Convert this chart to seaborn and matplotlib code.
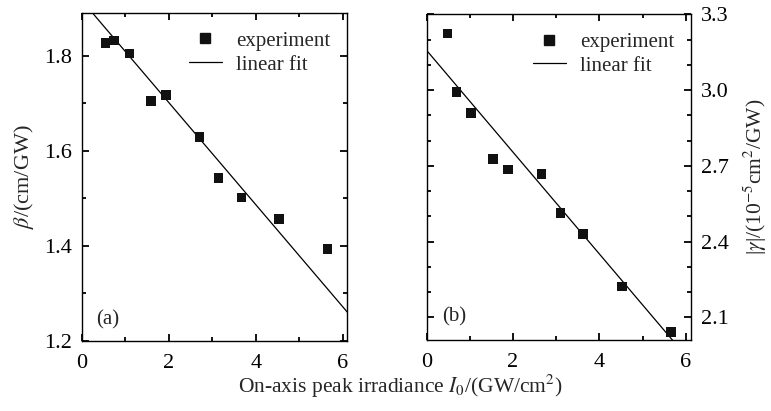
import matplotlib
matplotlib.use("Agg")
import matplotlib.pyplot as plt
import numpy as np
import pandas as pd
import seaborn as sns
from matplotlib.lines import Line2D
from matplotlib.ticker import MultipleLocator

# panel (a): beta vs irradiance
irr_a = [0.54, 0.74, 1.09, 1.59, 1.93, 2.70, 3.14, 3.67, 4.53, 5.65]
beta = [1.827, 1.832, 1.805, 1.705, 1.718, 1.629, 1.543, 1.502, 1.457, 1.394]
fit_x_a = [0.0, 6.3]
fit_y_a = [1.916, 1.240]

# panel (b): |gamma| vs irradiance
irr_b = [0.48, 0.69, 1.02, 1.53, 1.88, 2.66, 3.10, 3.62, 4.53, 5.66]
gamma = [3.224, 2.993, 2.910, 2.728, 2.685, 2.667, 2.512, 2.430, 2.222, 2.042]
fit_x_b = [0.0, 6.3]
fit_y_b = [3.157, 1.887]

sns.set_style("ticks")
plt.rcParams['font.family'] = ['Liberation Serif', 'DejaVu Serif']
plt.rcParams['mathtext.fontset'] = 'stix'
plt.rcParams['font.size'] = 16

fig = plt.figure(figsize=(7.71, 4.11), dpi=100)
ax1 = fig.add_axes([0.1064, 0.1703, 0.3437, 0.798])
ax2 = fig.add_axes([0.5534, 0.1727, 0.3428, 0.7925])

df_a = pd.DataFrame({'I0': irr_a, 'val': beta})
df_b = pd.DataFrame({'I0': irr_b, 'val': gamma})
fa = pd.DataFrame({'I0': fit_x_a, 'val': fit_y_a})
fb = pd.DataFrame({'I0': fit_x_b, 'val': fit_y_b})

for ax, df, fdf in [(ax1, df_a, fa), (ax2, df_b, fb)]:
    sns.lineplot(data=fdf, x='I0', y='val', ax=ax, color='black', lw=0.9)
    sns.scatterplot(data=df, x='I0', y='val', ax=ax, marker='s', s=48,
                    color='#111111', edgecolor='none', zorder=3)
    ax.set_xlabel('')
    ax.set_ylabel('')
    ax.xaxis.set_major_locator(MultipleLocator(2))
    ax.xaxis.set_minor_locator(MultipleLocator(1))
    ax.tick_params(which='both', direction='in', top=True, right=True,
                   width=1.3, labelsize=16, pad=7, colors='black')
    ax.tick_params(which='major', length=5)
    ax.tick_params(which='minor', length=3)
    ax.tick_params(axis='x', which='major', pad=9)
    for sp in ax.spines.values():
        sp.set_linewidth(1.0)
        sp.set_color('black')
    handles = [Line2D([], [], marker='s', ls='none', color='#111111', ms=7),
               Line2D([], [], color='black', lw=0.9)]
    ax.legend(handles, ['experiment', 'linear fit'], loc='upper right',
              bbox_to_anchor=(0.97, 0.97), frameon=False, handlelength=1.6,
              handletextpad=0.7, labelspacing=0.2, borderaxespad=0, fontsize=15)

ax1.set_xlim(0.0, 6.1)
ax1.set_ylim(1.2, 1.89)
ax1.yaxis.set_major_locator(MultipleLocator(0.2))
ax1.yaxis.set_minor_locator(MultipleLocator(0.1))
ax1.set_ylabel(r'$\beta$/(cm/GW)', fontsize=16, labelpad=6)
ax1.text(0.053, 0.064, '(a)', transform=ax1.transAxes, fontsize=15, va='center')

ax2.set_xlim(0.0, 6.12)
ax2.set_ylim(2.01, 3.3)
ax2.yaxis.set_major_locator(MultipleLocator(0.3))
ax2.yaxis.set_minor_locator(MultipleLocator(0.1))
ax2.tick_params(axis='y', which='both', labelleft=False, labelright=True)
ax2.yaxis.set_label_position('right')
ax2.set_ylabel(r'|$\gamma$|/(10$^{-5}$cm$^2$/GW)', fontsize=15.5, labelpad=9)
ax2.set_yticks([2.1, 2.4, 2.7, 3.0, 3.3])
ax2.set_yticklabels(['2.1', '2.4', '2.7', '3.0', '3.3'])
ax2.text(0.057, 0.071, '(b)', transform=ax2.transAxes, fontsize=15, va='center')

fig.text(0.519, 0.06, r'On-axis peak irradiance $I_0$/(GW/cm$^2$)',
         ha='center', va='center', fontsize=15.5)

fig.savefig('out.png', dpi=100)
